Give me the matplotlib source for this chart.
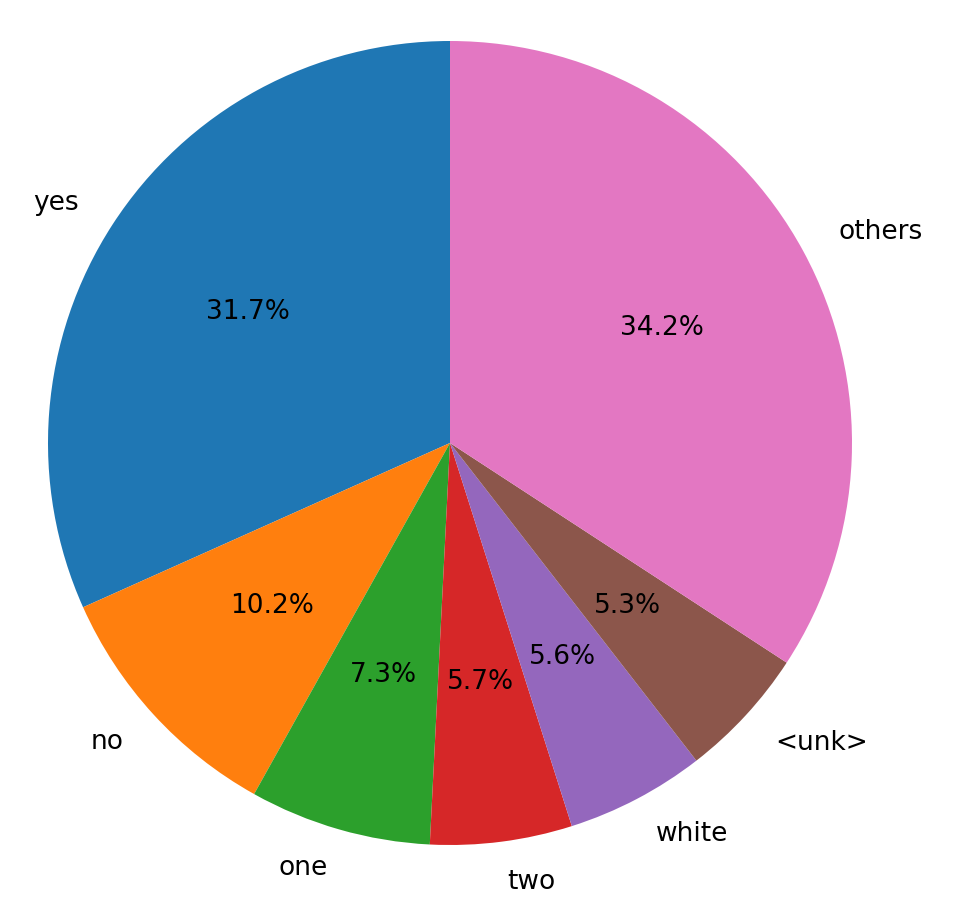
import matplotlib
matplotlib.use("Agg")
import matplotlib.pyplot as plt

labels = ["yes", "no", "one", "two", "white", "<unk>", "others"]
values = [31.7, 10.2, 7.3, 5.7, 5.6, 5.3, 34.2]

fig = plt.figure(figsize=(9.56, 9.18), dpi=100)
cx, cy, r = 450, 443, 402
W, H = 956, 918
ax = fig.add_axes([(cx - r) / W, (H - cy - r) / H, 2 * r / W, 2 * r / H])
ax.pie(values, labels=labels, autopct="%1.1f%%", startangle=90,
       textprops={"fontsize": 19})
ax.set_xlim(-1, 1)
ax.set_ylim(-1, 1)
ax.set_aspect("equal")
ax.axis("off")
fig.savefig("out.png", dpi=100)
